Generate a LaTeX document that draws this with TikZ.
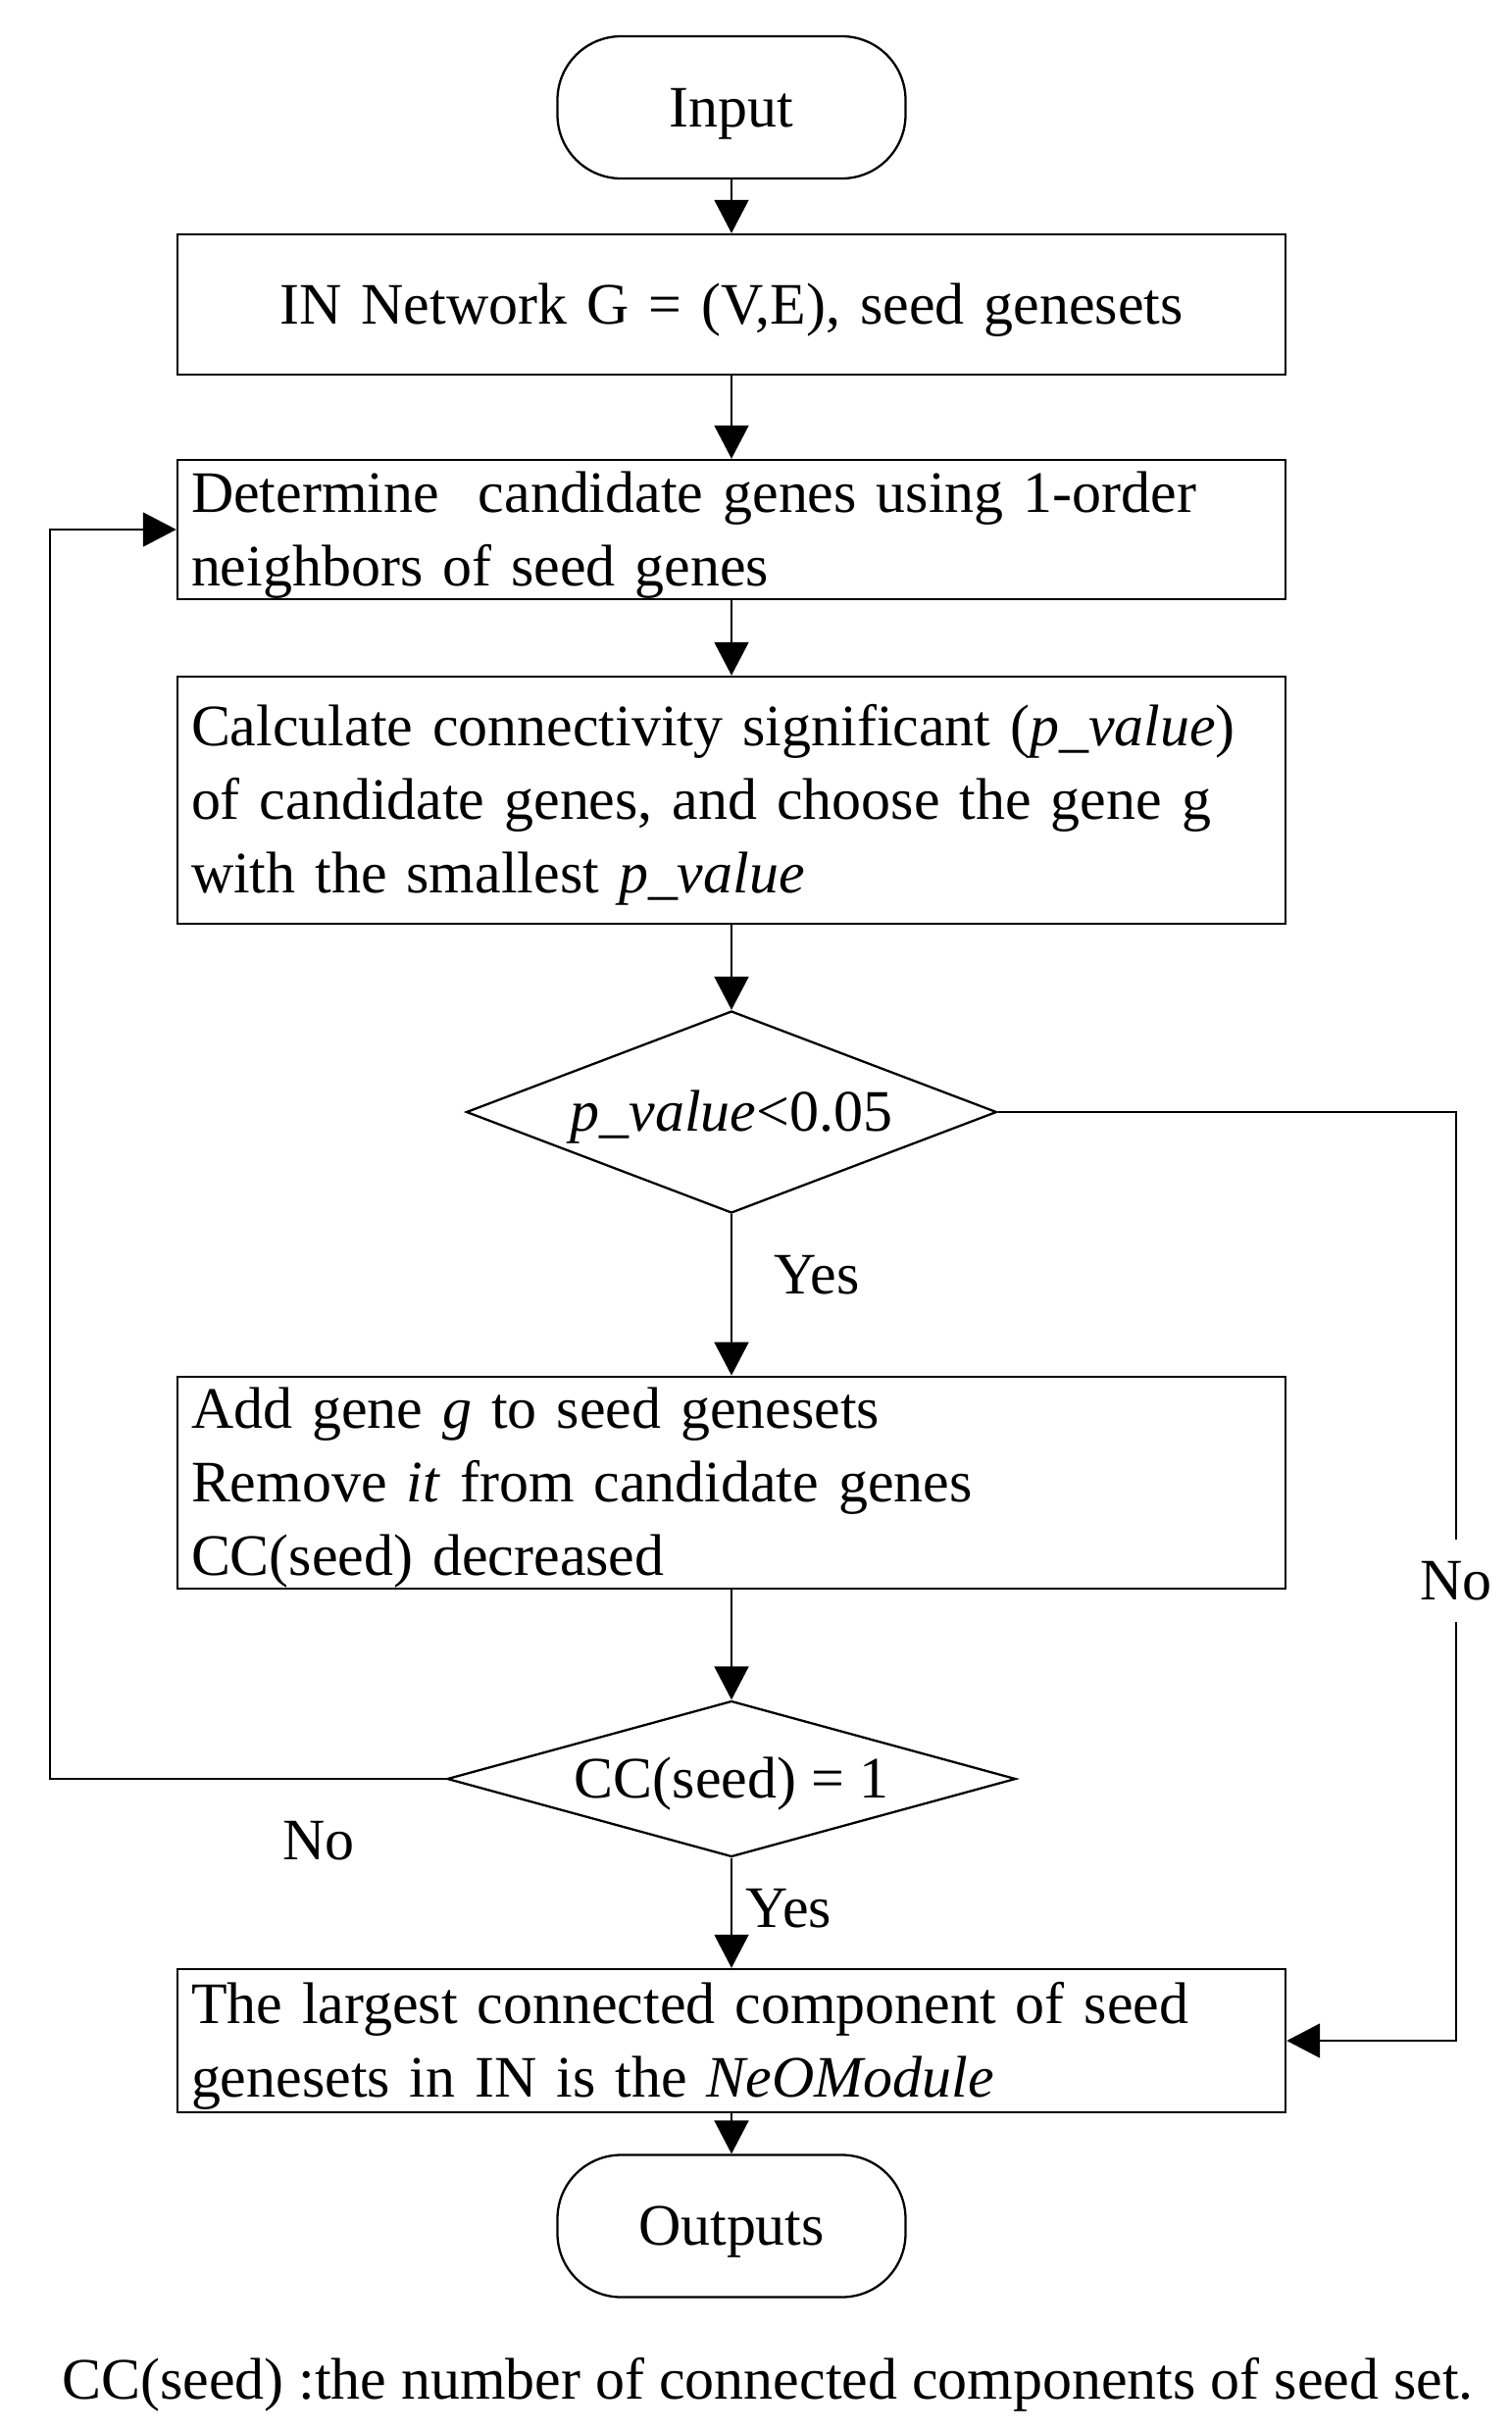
\documentclass[tikz,border=0pt]{standalone}
\usepackage{fontspec}
\setmainfont{Liberation Serif}
\usepackage{tikz}
\usetikzlibrary{shapes.geometric, arrows.meta, positioning, calc}

\begin{document}
\begin{tikzpicture}[
        font=\fontsize{34.1}{42.7}\selectfont,
        terminal/.style={rectangle, draw, line width=1.3pt, rounded corners=1.3cm, minimum width=7.1cm, minimum height=2.9cm, text height=30pt, text depth=7.7pt},
        process/.style={rectangle, draw, line width=1.4pt, text width=22.04cm, inner xsep=0.28cm, inner ysep=0pt, align=left,
            execute at begin node={\rule{0pt}{30pt}}, execute at end node={\rule[-7.7pt]{0pt}{7.7pt}}},
        decision/.style={diamond, draw, line width=1.3pt, inner sep=0pt, text height=30pt, text depth=7.7pt},
        flow/.style={line width=1.1pt, -{Triangle[length=0.68cm, width=0.7cm]}},
        tag/.style={inner sep=0pt}
    ]
        \useasboundingbox (0,0) rectangle (30.84,-49.56);

        % Steps
        \node[terminal] (start) at (14.92, -2.19) {Input};

        \node[process, align=center, minimum height=2.86cm] (net) at (14.92, -6.21) {
            IN Network G = (V,E), seed genesets
        };

        \node[process, minimum height=2.84cm] (cand) at (14.92, -10.8) {
            Determine\ \ candidate genes using 1-order\\
            neighbors of seed genes
        };

        \node[process, minimum height=5.04cm] (calc) at (14.92, -16.32) {
            Calculate connectivity significant (\textit{p\_value})\\
            of candidate genes, and choose the gene g\\
            with the smallest \textit{p\_value}
        };

        \node[decision, aspect=2.6, minimum width=10.82cm, minimum height=4.12cm] (test) at (14.92, -22.68) {\textit{p\_value}<0.05};

        \node[process, minimum height=4.32cm] (add) at (14.92, -30.24) {
            Add gene \textit{g} to seed genesets\\
            Remove \textit{it} from candidate genes\\
            CC(seed) decreased
        };

        \node[decision, aspect=3.6, minimum width=11.6cm, minimum height=3.18cm] (check) at (14.92, -36.28) {CC(seed) = 1};

        \node[process, minimum height=2.92cm] (module) at (14.92, -41.62) {
            The largest connected component of seed\\
            genesets in IN is the \textit{NeOModule}
        };

        \node[terminal] (stop) at (14.92, -45.4) {Outputs};

        \node[anchor=base west] (note) at (1.14, -48.92) {CC(seed) :the number of connected components of seed set.};

        % Connectors
        \draw[flow] (start) -- (net);
        \draw[flow] (net) -- (cand);
        \draw[flow] (cand) -- (calc);
        \draw[flow] (calc) -- (test);
        \draw[flow] (test) -- node[pos=0.38, right=0.85cm, tag] {Yes} (add);
        \draw[flow] (add) -- (check);
        \draw[flow] (check) -- node[pos=0.46, right=0.28cm, tag] {Yes} (module);
        \draw[flow] (module) -- (stop);

        \coordinate (rtop) at (29.7, -22.68);
        \draw[flow] (test.east) -- (rtop) -- node[pos=0.505, tag, fill=white, inner ysep=0.44cm] {No} (rtop |- module.east) -- (module.east);

        \coordinate (lbot) at (1.02, -36.28);
        \draw[flow] (check.west) -- node[pos=0.322, yshift=-1.26cm, tag] {No} (lbot) |- (cand.west);

    \end{tikzpicture}
\end{document}
